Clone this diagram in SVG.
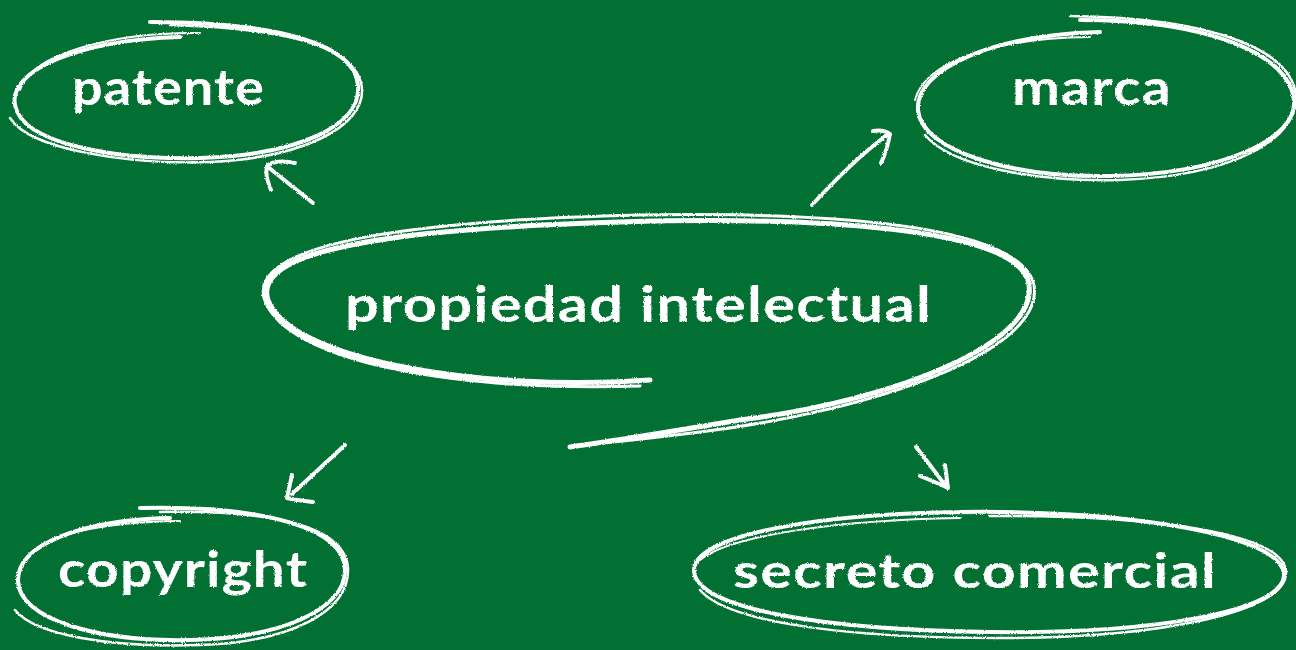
<svg xmlns="http://www.w3.org/2000/svg" width="1296" height="650" viewBox="0 0 1296 650">
<defs>
<filter id="chalk" x="-5%" y="-5%" width="110%" height="110%">
<feTurbulence type="fractalNoise" baseFrequency="0.9" numOctaves="2" seed="3" result="n"/>
<feDisplacementMap in="SourceGraphic" in2="n" scale="2.5" xChannelSelector="R" yChannelSelector="G"/>
</filter>
<style>
.bg{fill:#037033}
.loop{fill:none;stroke:#ffffff;stroke-linecap:round}
.t{fill:#ffffff;font-family:"Lato","Open Sans",sans-serif;font-weight:700;letter-spacing:1px}
.c{fill:none;stroke:#ffffff;stroke-width:4;stroke-linecap:round;stroke-linejoin:round}
</style>
</defs>
<rect class="bg" x="0" y="0" width="1296" height="650"/>

<g id="node-patente" filter="url(#chalk)">
<path class="loop" stroke-width="4" d="M180,37 C80,40 8,70 15,105 C22,145 120,160 200,158 C300,155 362,125 358,85 C355,45 280,22 150,22"/>
<path class="loop" stroke-width="2.5" d="M10,118 C30,150 130,165 210,162 C300,158 365,128 362,88 C358,48 290,28 170,25"/>
<path class="loop" stroke-width="2" d="M20,90 C30,55 110,32 200,33"/>
<text class="t" x="72" y="105" font-size="50" textLength="193" lengthAdjust="spacingAndGlyphs">patente</text>
</g>

<g id="node-marca" filter="url(#chalk)">
<path class="loop" stroke-width="4" d="M1100,32 C990,35 915,70 918,110 C921,150 1010,178 1110,176 C1220,174 1298,140 1294,100 C1290,55 1210,20 1080,20"/>
<path class="loop" stroke-width="2.5" d="M925,135 C950,165 1030,182 1120,180 C1230,176 1296,142 1296,96 C1292,52 1220,18 1070,16"/>
<path class="loop" stroke-width="2" d="M915,100 C925,60 1000,38 1090,37"/>
<text class="t" x="1012" y="105" font-size="50" textLength="160" lengthAdjust="spacingAndGlyphs">marca</text>
</g>

<g id="node-propiedad" filter="url(#chalk)">
<path class="loop" stroke-width="5" d="M650,380 C480,392 290,360 268,300 C250,245 420,228 620,222 C820,216 1010,228 1028,280 C1045,340 900,400 740,420 C680,430 620,440 570,447"/>
<path class="loop" stroke-width="3" d="M640,386 C470,392 285,365 264,298 C250,240 430,220 640,215 C840,212 1020,225 1034,285 C1045,350 880,410 700,432 C660,437 620,442 580,445"/>
<path class="loop" stroke-width="2" d="M280,270 C330,240 480,225 660,220"/>
<path class="loop" stroke-width="2" d="M300,335 C360,372 470,384 600,382"/>
<text class="t" x="345" y="322" font-size="50" textLength="587" lengthAdjust="spacingAndGlyphs">propiedad intelectual</text>
</g>

<g id="node-copyright" filter="url(#chalk)">
<path class="loop" stroke-width="4" d="M170,518 C80,520 18,545 18,580 C18,620 100,642 190,640 C280,638 345,610 345,570 C345,530 270,505 140,508"/>
<path class="loop" stroke-width="2.5" d="M15,610 C35,635 110,648 200,645 C290,642 350,612 348,568 C345,528 280,510 160,512"/>
<path class="loop" stroke-width="2" d="M25,560 C40,535 100,522 180,521"/>
<text class="t" x="58" y="587" font-size="50" textLength="250" lengthAdjust="spacingAndGlyphs">copyright</text>
</g>

<g id="node-secreto" filter="url(#chalk)">
<path class="loop" stroke-width="4" d="M980,512 C820,512 695,535 694,570 C694,610 830,630 990,632 C1150,634 1284,612 1284,575 C1284,535 1130,510 960,512"/>
<path class="loop" stroke-width="2.5" d="M700,590 C730,625 860,638 1000,638 C1160,638 1288,612 1286,572 C1284,532 1150,515 990,516"/>
<path class="loop" stroke-width="2" d="M700,560 C730,535 840,520 960,518"/>
<text class="t" x="733" y="588" font-size="48" textLength="484" lengthAdjust="spacingAndGlyphs">secreto comercial</text>
</g>

<g id="connectors" filter="url(#chalk)">
<path class="c" d="M313,203 L268,167"/>
<path class="c" d="M271,190 C266,178 265,170 268,165 C275,161 286,161 295,163"/>
<path class="c" d="M812,205 C835,180 860,155 887,135"/>
<path class="c" d="M873,131 C880,130 886,131 890,134 C888,145 885,155 881,163"/>
<path class="c" d="M345,445 L292,494"/>
<path class="c" d="M292,475 C290,485 288,492 287,498 C295,500 304,501 313,502"/>
<path class="c" d="M916,447 C925,458 935,472 945,485"/>
<path class="c" d="M945,465 C946,472 947,480 948,488 C940,484 930,480 920,476"/>
</g>
</svg>
